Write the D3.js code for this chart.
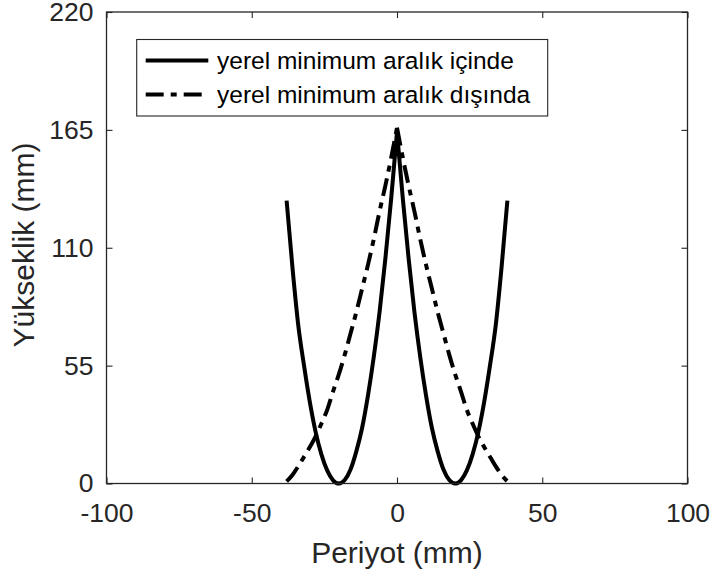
<!DOCTYPE html>
<html>
<head>
<meta charset="utf-8">
<script src="https://cdn.jsdelivr.net/npm/d3@7"></script>
<style>
  html, body { margin: 0; padding: 0; background: #fff; }
  svg { display: block; font-family: "Liberation Sans", Arial, sans-serif; }
</style>
</head>
<body>
<svg id="chart" width="712" height="576"></svg>
<script>
// Period positions (mm)
const periyot = [-38, -36, -34, -32, -30, -28, -26, -24, -22, -20, -18, -16, -14, -12, -10, -8, -6, -4, -2, 0,
                 2, 4, 6, 8, 10, 12, 14, 16, 18, 20, 22, 24, 26, 28, 30, 32, 34, 36, 38];
// Height with local minimum inside the range (mm)
const icinde = [132, 101, 74, 55, 38, 24, 13.5, 6, 1.5, 0, 1.6, 6.5, 15, 26, 41, 59, 80, 105, 133, 164,
                133, 105, 80, 59, 41, 26, 15, 6.5, 1.6, 0, 1.5, 6, 13.5, 24, 38, 55, 74, 101, 132];
// Height with local minimum outside the range (mm)
const disinda = [1, 4, 8, 12.5, 17, 22, 28, 34.5, 43, 51, 60, 70, 80, 91, 102, 114, 127, 139, 152, 166,
                 152, 139, 127, 114, 102, 91, 80, 70, 60, 51, 43, 34.5, 28, 22, 17, 12.5, 8, 4, 1];
const xTicks = [-100, -50, 0, 50, 100];
const yTicks = [0, 55, 110, 165, 220];
const seriesNames = ["yerel minimum aralık içinde", "yerel minimum aralık dışında"];

const axisColor = "#262626";
const dashDot = "18,7,6,7";

const svg = d3.select("#chart");
const plotLeft = 106.5, plotRight = 687.5, plotTop = 12, plotBottom = 483.5;

const x = d3.scaleLinear().domain([-100, 100]).range([plotLeft, plotRight]);
const y = d3.scaleLinear().domain([0, 220]).range([plotBottom, plotTop]);

// Each curve is drawn as two halves so the peak at 0 stays sharp
function halves(values) {
  const pts = periyot.map((p, i) => ({ p, v: values[i] }));
  return [pts.filter(d => d.p <= 0), pts.filter(d => d.p >= 0)];
}
const line = d3.line().x(d => x(d.p)).y(d => y(d.v)).curve(d3.curveMonotoneX);

const plot = svg.append("g");
halves(icinde).forEach(h => {
  plot.append("path").attr("d", line(h))
    .attr("fill", "none").attr("stroke", "#000").attr("stroke-width", 4)
    .attr("stroke-linejoin", "round");
});
halves(disinda).forEach(h => {
  plot.append("path").attr("d", line(h))
    .attr("fill", "none").attr("stroke", "#000").attr("stroke-width", 4)
    .attr("stroke-dasharray", dashDot);
});

// Plain hyphen for negative tick labels
const plainFormat = d => String(d);

// Axes with inward ticks on all four sides
function styleAxis(g) {
  g.select(".domain").remove();
  g.selectAll(".tick line").attr("stroke", axisColor).attr("stroke-width", 1.1);
  g.selectAll(".tick text").attr("fill", axisColor).attr("font-size", 26.5)
    .attr("font-family", "Liberation Sans, Arial, sans-serif");
}
svg.append("g").attr("transform", `translate(0,${plotBottom})`)
  .call(d3.axisBottom(x).tickValues(xTicks).tickFormat(plainFormat)
    .tickSizeInner(-6).tickSizeOuter(0).tickPadding(20))
  .call(styleAxis);
svg.append("g").attr("transform", `translate(0,${plotTop})`)
  .call(d3.axisTop(x).tickValues(xTicks).tickSizeInner(-6).tickSizeOuter(0).tickFormat(""))
  .call(styleAxis);
svg.append("g").attr("transform", `translate(${plotLeft},0)`)
  .call(d3.axisLeft(y).tickValues(yTicks).tickFormat(plainFormat)
    .tickSizeInner(-6).tickSizeOuter(0).tickPadding(13))
  .call(styleAxis);
svg.append("g").attr("transform", `translate(${plotRight},0)`)
  .call(d3.axisRight(y).tickValues(yTicks).tickSizeInner(-6).tickSizeOuter(0).tickFormat(""))
  .call(styleAxis);

// Plot box
svg.append("rect")
  .attr("x", plotLeft).attr("y", plotTop).attr("width", plotRight - plotLeft).attr("height", plotBottom - plotTop)
  .attr("fill", "none").attr("stroke", axisColor).attr("stroke-width", 1.3);

// Axis titles
svg.append("text").attr("x", (plotLeft + plotRight) / 2).attr("y", 563)
  .attr("text-anchor", "middle").attr("font-size", 30).attr("fill", axisColor)
  .text("Periyot (mm)");
svg.append("text").attr("transform", `translate(34,245) rotate(-90)`)
  .attr("text-anchor", "middle").attr("font-size", 30).attr("fill", axisColor)
  .text("Yükseklik (mm)");

// Legend
const lg = svg.append("g");
lg.append("rect").attr("x", 136.7).attr("y", 39.5).attr("width", 411).attr("height", 76.5)
  .attr("fill", "#fff").attr("stroke", axisColor).attr("stroke-width", 1.1);
const rows = [60.5, 94.5];
seriesNames.forEach((name, i) => {
  lg.append("line").attr("x1", 145.7).attr("x2", 208.3).attr("y1", rows[i]).attr("y2", rows[i])
    .attr("stroke", "#000").attr("stroke-width", 4)
    .attr("stroke-dasharray", i === 1 ? dashDot : null);
  lg.append("text").attr("x", 217).attr("y", rows[i] + 8.7)
    .attr("font-size", 24.5).attr("fill", "#000").text(name);
});
</script>
</body>
</html>
